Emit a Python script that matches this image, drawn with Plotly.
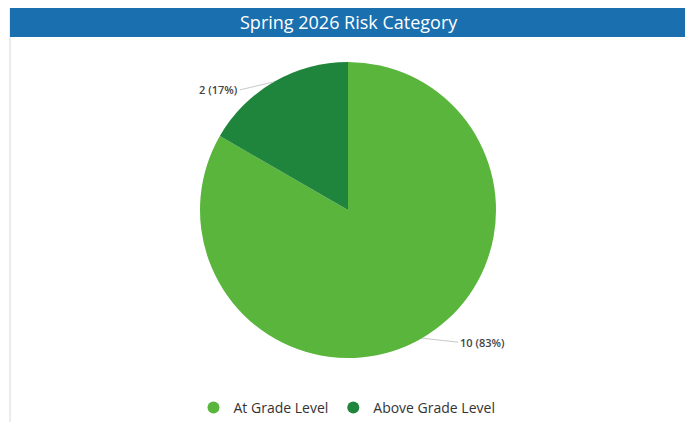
import math
import plotly.graph_objects as go

categories = ["At Grade Level", "Above Grade Level"]
values = [10, 2]
colors = ["#5ab53c", "#1f843c"]
title_text = "Spring 2026 Risk Category"

W, H = 693, 422
CX, CY, R = 340, 202, 148   # pie centre / radius in figure pixels (layout)


def px(x):
    return x / W


def py(y):
    return 1 - y / H


fig = go.Figure()

fig.add_trace(go.Pie(
    labels=categories,
    values=values,
    sort=False,
    direction="clockwise",
    rotation=0,
    marker=dict(colors=colors, line=dict(width=0)),
    textinfo="none",
    showlegend=False,
    hoverinfo="label+value+percent",
    domain=dict(x=[px(CX - R), px(CX + R)], y=[py(CY + R), py(CY - R)]),
))

# legend entries with round markers
for name, col in zip(categories, colors):
    fig.add_trace(go.Scatter(
        x=[None], y=[None], mode="markers", name=name,
        marker=dict(symbol="circle", size=10, color=col),
        showlegend=True,
    ))

# data labels with leader lines, anchored at each slice's mid-angle
total = sum(values)
annotations = []
cum = 0
offsets = [(36, 4, "left"), (-34, 8, "right")]
for v, (ax, ay, anchor) in zip(values, offsets):
    theta = math.radians(360 * (cum + v / 2) / total)
    cum += v
    ex = CX + R * math.sin(theta)
    ey = CY - R * math.cos(theta)
    pct = round(100 * v / total)
    annotations.append(dict(
        text=f"{v} ({pct}%)", xref="paper", yref="paper",
        x=px(ex), y=py(ey), ax=ax, ay=ay, axref="pixel", ayref="pixel",
        showarrow=True, arrowhead=0, arrowwidth=1, arrowcolor="#c8c8c8",
        standoff=0, xanchor=anchor, yanchor="middle",
        font=dict(family="Open Sans", size=11, color="#444444", weight=600),
    ))

annotations.append(dict(
    text=title_text, xref="paper", yref="paper",
    x=px(341), y=py(14), xanchor="center", yanchor="middle",
    showarrow=False,
    font=dict(family="Open Sans", size=18, color="white"),
))

fig.update_layout(
    width=W, height=H,
    margin=dict(l=0, r=0, t=0, b=0),
    paper_bgcolor="white",
    plot_bgcolor="rgba(0,0,0,0)",
    xaxis=dict(visible=False),
    yaxis=dict(visible=False),
    legend=dict(
        orientation="h", x=px(339), xanchor="center", y=py(400), yanchor="middle",
        font=dict(family="Open Sans", size=14, color="#333333"),
        itemsizing="constant", traceorder="normal",
        itemwidth=30,
    ),
    shapes=[
        dict(type="rect", xref="paper", yref="paper",
             x0=px(2), x1=px(680), y0=0, y1=1,
             line=dict(color="#d8d8d8", width=1), fillcolor="rgba(0,0,0,0)"),
        dict(type="rect", xref="paper", yref="paper",
             x0=px(2), x1=px(680), y0=py(29), y1=1,
             line=dict(width=0), fillcolor="#1a6fae"),
    ],
    annotations=annotations,
)

fig.write_html("out.html")
